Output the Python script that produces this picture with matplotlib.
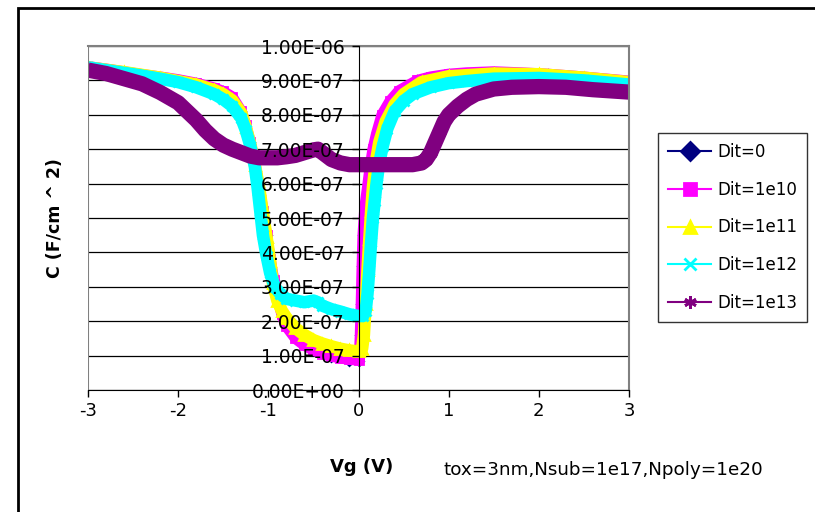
import matplotlib
matplotlib.use("Agg")
import matplotlib.pyplot as plt
from matplotlib.lines import Line2D
from matplotlib.patches import Rectangle
import numpy as np

# values, capacitance in units of 1e-7 F/cm^2
vg_0 = [-3.0, -2.6, -2.2, -1.8, -1.5, -1.3, -1.2, -1.15, -1.1, -1.06, -1.02, -0.98, -0.94,
        -0.9, -0.85, -0.8, -0.7, -0.5, -0.3, -0.1, 0.0, 0.01, 0.02, 0.03, 0.04, 0.05,
        0.07, 0.1, 0.16, 0.26, 0.45, 0.65, 1.0, 1.5, 2.1, 2.7, 3.0]
c_0 = [9.40, 9.25, 9.10, 8.92, 8.68, 8.10, 7.20, 6.60, 5.90, 5.20, 4.50, 3.80, 3.20,
       2.70, 2.20, 1.85, 1.50, 1.16, 0.97, 0.84, 0.84, 1.00, 1.60, 2.50, 3.60, 4.50,
       5.30, 5.90, 7.00, 8.00, 8.70, 9.00, 9.18, 9.25, 9.18, 9.05, 8.98]

vg_1e10 = [-3.0, -2.8, -2.6, -2.4, -2.2, -2.0, -1.8, -1.6, -1.5, -1.4, -1.3, -1.25, -1.2,
           -1.15, -1.1, -1.06, -1.02, -0.98, -0.94, -0.9, -0.85, -0.8, -0.7, -0.6, -0.5,
           -0.4, -0.3, -0.2, -0.1, 0.0, 0.01, 0.02, 0.03, 0.04, 0.05, 0.07, 0.1, 0.13,
           0.16, 0.2, 0.26, 0.35, 0.45, 0.65, 0.8, 1.0, 1.2, 1.5, 1.8, 2.1, 2.4, 2.7, 3.0]
c_1e10 = [9.40, 9.33, 9.25, 9.17, 9.10, 9.02, 8.92, 8.78, 8.68, 8.52, 8.10, 7.70, 7.20,
          6.60, 5.90, 5.20, 4.50, 3.80, 3.20, 2.70, 2.20, 1.85, 1.50, 1.30, 1.16,
          1.05, 0.98, 0.93, 0.89, 0.87, 1.00, 1.60, 2.50, 3.60, 4.50, 5.30, 5.90, 6.50,
          7.00, 7.45, 8.00, 8.40, 8.70, 9.00, 9.10, 9.18, 9.22, 9.25, 9.22, 9.18, 9.12, 9.05, 8.98]

vg_1e11 = [-3.0, -2.6, -2.2, -1.8, -1.6, -1.5, -1.4, -1.3, -1.25, -1.2, -1.15, -1.1, -1.06,
           -1.02, -0.98, -0.95, -0.9, -0.85, -0.8, -0.7, -0.6, -0.5, -0.4, -0.3, -0.2,
           -0.1, 0.0, 0.04, 0.06, 0.08, 0.1, 0.12, 0.14, 0.16, 0.19, 0.23, 0.3, 0.4, 0.5,
           0.7, 1.0, 1.5, 2.0, 2.5, 3.0]
c_1e11 = [9.38, 9.24, 9.08, 8.88, 8.72, 8.60, 8.42, 8.05, 7.65, 7.15, 6.55, 5.85, 5.15,
          4.45, 3.75, 3.10, 2.60, 2.30, 2.10, 1.80, 1.60, 1.45, 1.35, 1.27, 1.20,
          1.15, 1.12, 1.20, 1.60, 2.50, 3.50, 4.40, 5.20, 5.90, 6.60, 7.20, 7.80, 8.30, 8.60,
          8.95, 9.12, 9.20, 9.18, 9.08, 8.95]

vg_1e12 = [-3.0, -2.8, -2.6, -2.4, -2.2, -2.0, -1.8, -1.6, -1.5, -1.4, -1.3, -1.25, -1.2,
           -1.15, -1.12, -1.09, -1.06, -1.02, -0.98, -0.93, -0.87, -0.8, -0.7, -0.6, -0.5,
           -0.45, -0.4, -0.3, -0.2, -0.1, 0.0, 0.05, 0.08, 0.1, 0.12, 0.14, 0.16, 0.18,
           0.2, 0.23, 0.27, 0.32, 0.4, 0.5, 0.6, 0.8, 1.0, 1.2, 1.5, 2.0, 2.5, 3.0]
c_1e12 = [9.38, 9.30, 9.22, 9.14, 9.05, 8.95, 8.80, 8.60, 8.45, 8.25, 7.90, 7.55, 7.10,
          6.50, 5.90, 5.20, 4.50, 3.90, 3.40, 3.00, 2.80, 2.65, 2.60, 2.55, 2.60,
          2.55, 2.45, 2.35, 2.28, 2.20, 2.15, 2.15, 2.30, 2.80, 3.50, 4.30, 5.00, 5.50,
          6.00, 6.60, 7.10, 7.60, 8.10, 8.40, 8.60, 8.80, 8.92, 8.98, 9.05, 9.07, 9.00, 8.88]

vg_1e13 = [-3.0, -2.8, -2.6, -2.4, -2.2, -2.0, -1.9, -1.8, -1.7, -1.6, -1.5, -1.4, -1.3,
           -1.2, -1.1, -1.0, -0.9, -0.8, -0.7, -0.6, -0.5, -0.45, -0.4, -0.3, -0.2, -0.1,
           0.0, 0.2, 0.4, 0.6, 0.7, 0.75, 0.8, 0.85, 0.9, 0.95, 1.0, 1.1, 1.2, 1.3, 1.5,
           1.7, 2.0, 2.3, 2.6, 3.0]
c_1e13 = [9.30, 9.20, 9.05, 8.90, 8.65, 8.35, 8.10, 7.85, 7.55, 7.30, 7.12, 7.00, 6.90,
          6.80, 6.75, 6.75, 6.75, 6.78, 6.82, 6.90, 6.98, 7.00, 6.90, 6.70, 6.60, 6.55,
          6.55, 6.55, 6.55, 6.55, 6.60, 6.70, 6.90, 7.20, 7.50, 7.80, 8.00, 8.25, 8.45, 8.60, 8.75,
          8.80, 8.82, 8.80, 8.73, 8.66]

labels = ["Dit=0", "Dit=1e10", "Dit=1e11", "Dit=1e12", "Dit=1e13"]
series = [(vg_0, c_0), (vg_1e10, c_1e10), (vg_1e11, c_1e11), (vg_1e12, c_1e12), (vg_1e13, c_1e13)]
colors = ["#000080", "#FF00FF", "#FFFF00", "#00FFFF", "#800080"]
markers = ["D", "s", "^", "x", (6, 2, 0)]
band_lw = [5, 8, 9, 9, 11]
y_ticks = np.arange(0, 11) * 1e-7
y_ticklabels = ["0.00E+00", "1.00E-07", "2.00E-07", "3.00E-07", "4.00E-07", "5.00E-07",
                "6.00E-07", "7.00E-07", "8.00E-07", "9.00E-07", "1.00E-06"]
x_ticks = [-3, -2, -1, 0, 1, 2, 3]

plt.rcParams['font.family'] = 'DejaVu Sans'

fig = plt.figure(figsize=(8.15, 5.12), dpi=100)
ax = fig.add_axes([88 / 815, 1 - 390 / 512, (629 - 88) / 815, (390 - 46) / 512])

# gridlines under the data, axis + labels on top (as excel draws it)
for v in y_ticks:
    ax.axhline(v, color='black', lw=0.9, zorder=1)

for (vg, c), col, mk, lw in zip(series, colors, markers, band_lw):
    c = np.array(c) * 1e-7
    ax.plot(vg, c, color=col, lw=lw, solid_capstyle='butt', zorder=2)
    ax.plot(vg, c, color=col, lw=0, marker=mk, ms=lw * 0.8, mew=2, zorder=2)

ax.set_axisbelow(False)
ax.set_xlim(-3, 3)
ax.set_ylim(0, 1e-6)
ax.set_xticks(x_ticks)
ax.set_xticklabels([str(t) for t in x_ticks])
ax.set_yticks(y_ticks)
ax.set_yticklabels(y_ticklabels)

# y axis crosses at Vg=0 like the excel chart
ax.spines['left'].set_position(('data', 0))
ax.spines['left'].set_color('black')
ax.spines['left'].set_zorder(4)
ax.spines['bottom'].set_color('black')
ax.spines['top'].set_color('#808080')
ax.spines['right'].set_color('#808080')
ax.spines['top'].set_linewidth(1.5)
ax.spines['right'].set_linewidth(1.5)
ax.axvline(-3, color='#808080', lw=1.5, zorder=2)
ax.tick_params(axis='both', direction='out', length=5, width=1, color='black')
ax.tick_params(axis='y', pad=5, labelsize=13.5)
ax.tick_params(axis='x', pad=4, labelsize=13)

ax.set_ylabel("C (F/cm ^ 2)", fontsize=12.5, fontweight='bold')
ax.yaxis.set_label_coords(-24 / 541, 0.5)
fig.text(362 / 815, 1 - 467 / 512, "Vg (V)", fontsize=13, fontweight='bold', ha='center', va='center')
fig.text(443 / 815, 1 - 470 / 512, "tox=3nm,Nsub=1e17,Npoly=1e20", fontsize=13.2, ha='left', va='center')

handles = [Line2D([0], [0], color=col, lw=1.5, marker=mk, ms=9, mew=2)
           for col, mk in zip(colors, markers)]
leg = fig.legend(handles, labels, loc='upper left', bbox_to_anchor=(658 / 815, 1 - 133 / 512),
                 fontsize=12, frameon=True, fancybox=False, edgecolor='black',
                 handlelength=2.6, handletextpad=0.35, labelspacing=1.18, borderpad=0.6,
                 borderaxespad=0)
leg.get_frame().set_linewidth(1)

# outer chart border
fig.add_artist(Rectangle((18 / 815, -0.1), 1.0, 1.1 - 8 / 512, transform=fig.transFigure,
                         fill=False, edgecolor='black', lw=2))

fig.savefig("out.png", dpi=100)
